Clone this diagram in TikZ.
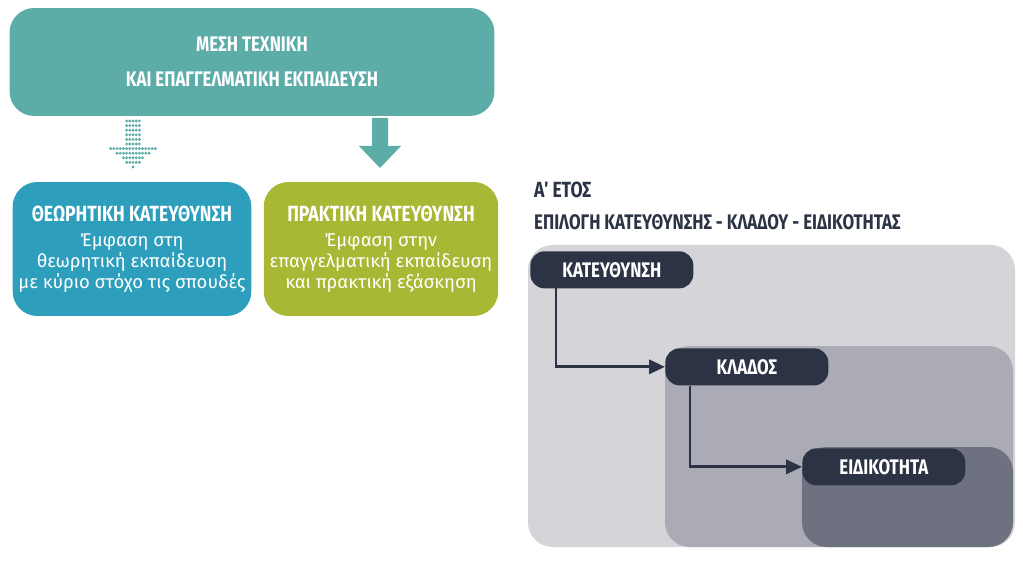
\documentclass[tikz,border=0pt]{standalone}
\usepackage{fontspec}
\setmainfont{Fira Sans}
\newfontfamily\condfont[FakeStretch=0.8]{Fira Sans}
\usetikzlibrary{positioning,arrows.meta}
\definecolor{tealtop}{RGB}{92,172,168}
\definecolor{bluebox}{RGB}{45,158,188}
\definecolor{olivebox}{RGB}{168,184,52}
\definecolor{greyA}{RGB}{212,212,217}
\definecolor{greyB}{RGB}{170,171,181}
\definecolor{greyC}{RGB}{110,113,128}
\definecolor{darklbl}{RGB}{44,51,68}
\newcommand{\boxhead}{\condfont\bfseries\fontsize{12.5}{16}\selectfont}
\newcommand{\boxbody}{\normalfont\fontsize{10.5}{13.5}\selectfont}
\tikzset{
  heading/.style={font=\condfont\bfseries\fontsize{12}{20}\selectfont, text=white, align=center},
  pathbox/.style={rounded corners=14pt, minimum width=4.7cm, minimum height=2.68cm, align=center, text=white},
  levelbox/.style={fill=darklbl, rounded corners=8pt, minimum width=3.26cm, minimum height=0.74cm,
    text=white, font=\condfont\bfseries\fontsize{12}{14}\selectfont},
  steparrow/.style={-{Triangle[length=9pt,width=8pt]}, darklbl, line width=1.6pt}
}
\begin{document}
\begin{tikzpicture}[x=0.02cm,y=-0.02cm]
\useasboundingbox (0,0) rectangle (1023,567);
% top block
\node[fill=tealtop, rounded corners=14pt, minimum width=9.7cm, minimum height=2.16cm, heading]
  (top) at (252,62) {ΜΕΣΗ ΤΕΧΝΙΚΗ\\ΚΑΙ ΕΠΑΓΓΕΛΜΑΤΙΚΗ ΕΚΠΑΙΔΕΥΣΗ};
% dotted arrow
\foreach \r/\w in {0/2,1/2,2/2,3/2,4/2,5/2,6/7,7/5,8/3,9/2,10/0}
  \foreach \c in {-\w,...,\w}
    \fill[tealtop] (133+\c*3.2,121+\r*4.6) circle (0.9pt);
% solid arrow
\fill[tealtop] (372,118) -- (388,118) -- (388,146) -- (401,146) -- (380,168) -- (359,146) -- (372,146) -- cycle;
% path boxes
\node[pathbox, fill=bluebox] (theory) at (132,249)
  {\boxhead ΘΕΩΡΗΤΙΚΗ ΚΑΤΕΥΘΥΝΣΗ\\[2pt]
   \boxbody Έμφαση στη\\\boxbody θεωρητική εκπαίδευση\\\boxbody με κύριο στόχο τις σπουδές};
\node[pathbox, fill=olivebox, minimum width=4.54cm] (practice) at (381,249)
  {\boxhead ΠΡΑΚΤΙΚΗ ΚΑΤΕΥΘΥΝΣΗ\\[2pt]
   \boxbody Έμφαση στην\\\boxbody επαγγελματική εκπαίδευση\\\boxbody και πρακτική εξάσκηση};
% first year
\node[anchor=west, font=\condfont\bfseries\fontsize{12.5}{15}\selectfont, text=darklbl] (year) at (528,190) {Α΄ ΕΤΟΣ};
\node[anchor=west, font=\condfont\bfseries\fontsize{12}{15}\selectfont, text=darklbl] (choice) at (528,222)
  {ΕΠΙΛΟΓΗ ΚΑΤΕΥΘΥΝΣΗΣ - ΚΛΑΔΟΥ - ΕΙΔΙΚΟΤΗΤΑΣ};
\fill[greyA, rounded corners=14pt] (528,245) rectangle (1015,547);
\fill[greyB, rounded corners=14pt] (665,346) rectangle (1013,547);
\fill[greyC, rounded corners=14pt] (802,447) rectangle (1013,547);
\node[levelbox, anchor=north west] (dir) at (530,251) {ΚΑΤΕΥΘΥΝΣΗ};
\node[levelbox, anchor=north west] (branch) at (665,348) {ΚΛΑΔΟΣ};
\node[levelbox, anchor=north west] (spec) at (802,448) {ΕΙΔΙΚΟΤΗΤΑ};
\coordinate (c1) at (556,287);
\coordinate (c2) at (690,386);
\draw[steparrow] (c1) |- (branch.west);
\draw[steparrow] (c2) |- (spec.west);
\end{tikzpicture}
\end{document}
